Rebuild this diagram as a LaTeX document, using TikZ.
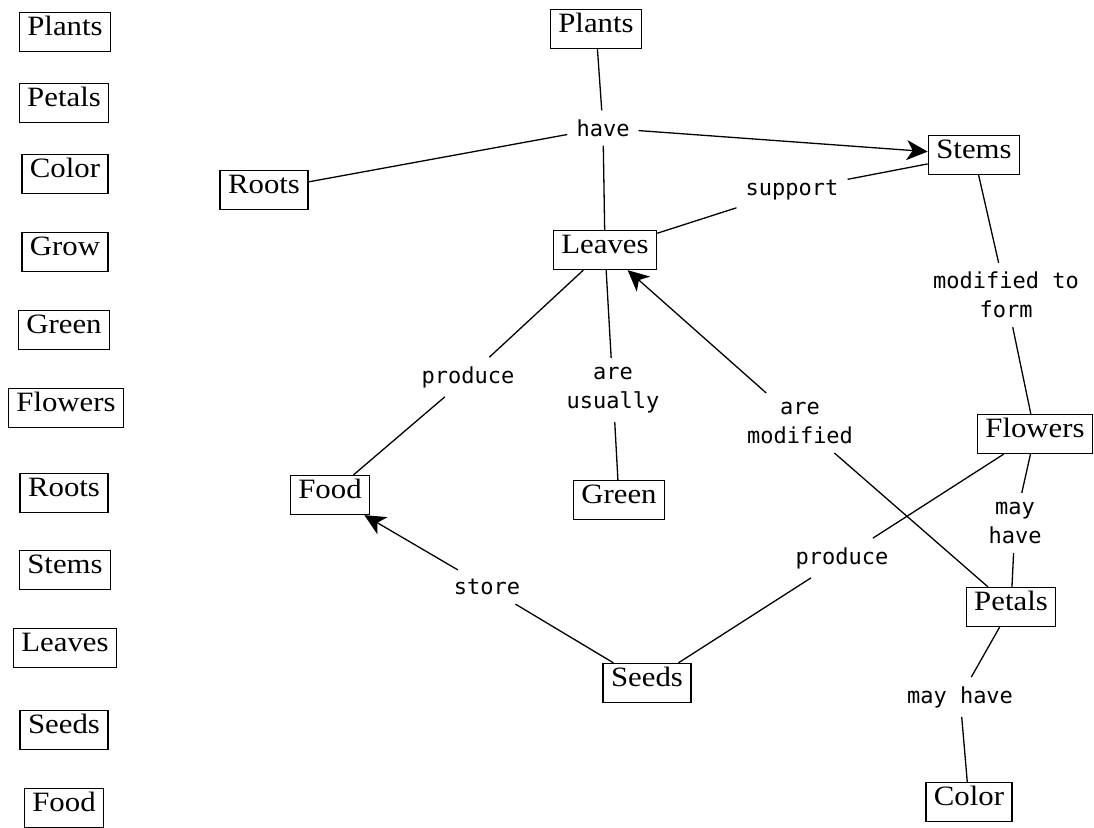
\documentclass[tikz,border=0pt]{standalone}
\usepackage{fontspec}
\setmainfont{Liberation Serif}[FakeStretch=1.1]
\newfontfamily\linkfont{DejaVu Sans Mono}
\usetikzlibrary{arrows.meta}
\begin{document}
\begin{tikzpicture}[x=1pt,y=-1pt,
  concept/.style={draw, line width=1.3pt, font=\fontsize{28}{30}\selectfont,
    inner xsep=8pt, inner ysep=0pt, text height=22.5pt, text depth=16.5pt},
  link/.style={font=\linkfont\fontsize{22}{29}\selectfont, align=center, inner sep=9pt},
  conn/.style={line width=1.3pt},
  arr/.style={conn, -{Stealth[length=21pt,width=20pt,inset=6pt]}}
]
\useasboundingbox (0,0) rectangle (1094,827);

% list of concepts on the left
\node[concept] (lplants)  at (65,32)  {Plants};
\node[concept] (lpetals)  at (64,103) {Petals};
\node[concept] (lcolor)   at (65,174) {Color};
\node[concept] (lgrow)    at (65,252) {Grow};
\node[concept] (lgreen)   at (64,330) {Green};
\node[concept] (lflowers) at (66,408) {Flowers};
\node[concept] (lroots)   at (64,493) {Roots};
\node[concept] (lstems)   at (65,570) {Stems};
\node[concept] (lleaves)  at (65,648) {Leaves};
\node[concept] (lseeds)   at (64,730) {Seeds};
\node[concept] (lfood)    at (64,808) {Food};

% concept map
\node[concept] (plants)  at (596,29)  {Plants};
\node[concept] (roots)   at (264,190) {Roots};
\node[concept] (leaves)  at (605,250) {Leaves};
\node[concept] (stems)   at (974,155) {Stems};
\node[concept] (flowers) at (1035,434) {Flowers};
\node[concept] (food)    at (330,495) {Food};
\node[concept] (green)   at (619,500) {Green};
\node[concept] (seeds)   at (647,683) {Seeds};
\node[concept] (petals)  at (1011,607) {Petals};
\node[concept] (color)   at (969,802) {Color};

% linking phrases
\node[link] (have)     at (603,128) {have};
\node[link] (support)  at (792,190) {support};
\node[link] (modform)  at (1006,295) {modified to\\form};
\node[link] (produceA) at (468,377) {produce};
\node[link] (usually)  at (613,390) {are\\usually};
\node[link] (aremod)   at (800,423) {are\\modified};
\node[link] (mayhaveA) at (1015,523) {may\\have};
\node[link] (produceB) at (842,558) {produce};
\node[link] (store)    at (487,587) {store};
\node[link] (mayhaveB) at (960,697) {may have};

% connectors
\draw[conn] (plants) -- (have);
\draw[conn] (have) -- (roots);
\draw[conn] (have) -- (leaves);
\draw[arr]  (have) -- (stems);
\draw[conn] (leaves) -- (support);
\draw[conn] (support) -- (stems);
\draw[conn] (stems) -- (modform);
\draw[conn] (modform) -- (flowers);
\draw[conn] (leaves) -- (produceA);
\draw[conn] (produceA) -- (food);
\draw[conn] (leaves) -- (usually);
\draw[conn] (usually) -- (green);
\draw[conn] (petals) -- (aremod);
\draw[arr]  (aremod) -- (leaves);
\draw[conn] (flowers) -- (produceB);
\draw[conn] (produceB) -- (seeds);
\draw[conn] (flowers) -- (mayhaveA);
\draw[conn] (mayhaveA) -- (petals);
\draw[conn] (petals) -- (mayhaveB);
\draw[conn] (mayhaveB) -- (color);
\draw[conn] (seeds) -- (store);
\draw[arr]  (store) -- (food);
\end{tikzpicture}
\end{document}
